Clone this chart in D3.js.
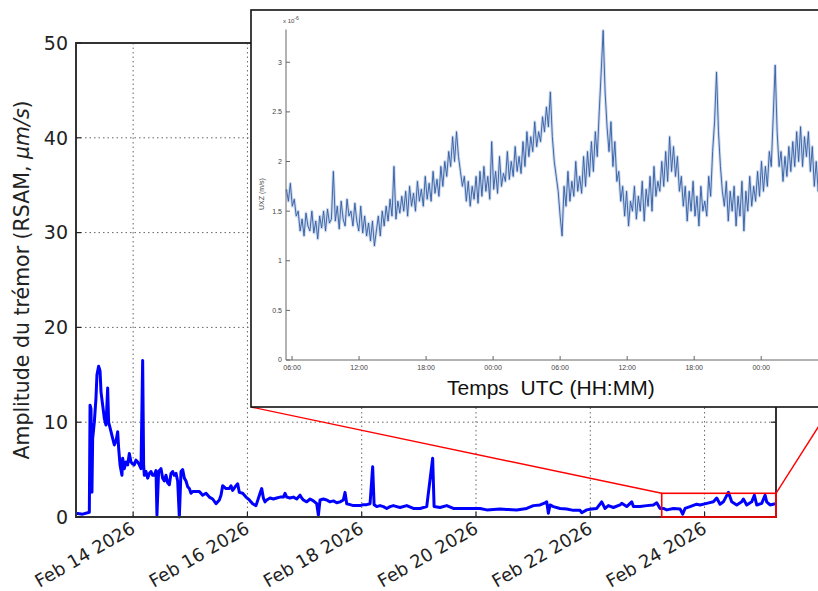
<!DOCTYPE html>
<html>
<head>
<meta charset="utf-8">
<script src="https://cdn.jsdelivr.net/npm/d3@7"></script>
<style>
body { margin: 0; background: #fff; }
svg { display: block; }
</style>
</head>
<body>
<svg id="chart" width="818" height="591"></svg>
<script>
// RSAM tremor amplitude, hours after Feb 13 2026 00:00 UTC
const rsamHours = [0, 2.8, 5.6, 5.9, 6.3, 6.7, 7.0, 7.7, 8.4, 8.8, 9.5, 10.1, 10.5, 11.2, 11.9, 12.6, 13.3, 13.7, 14.7, 15.4,
	16.1, 16.8, 17.5, 17.9, 18.5, 19.3, 19.6, 20.3, 21.0, 21.7, 22.4, 23.1, 23.8, 24.5, 25.2, 25.9, 26.6, 27.3, 28.0, 28.4,
	28.7, 29.4, 30.1, 30.8, 31.5, 32.2, 32.9, 33.6, 34.0, 34.7, 35.7, 36.4, 37.1, 37.8, 38.5, 39.2, 39.9, 40.6, 41.3, 42.0,
	42.7, 43.4, 44.1, 44.8, 45.5, 46.2, 46.9, 47.6, 48.3, 49.0, 50.4, 51.8, 53.2, 54.6, 56.0, 57.4, 58.8, 60.2, 60.9, 61.6,
	63.0, 64.4, 65.1, 65.8, 67.2, 67.9, 68.6, 70.0, 71.4, 72.8, 74.2, 75.6, 77.3, 78.0, 78.7, 79.4, 80.1, 81.5, 82.9, 84.3,
	85.7, 87.1, 87.8, 88.5, 89.9, 91.3, 92.7, 94.1, 94.8, 95.5, 96.9, 98.3, 99.7, 101.1, 101.8, 102.5, 103.9, 105.3, 106.7, 108.1,
	109.5, 110.9, 112.3, 113.0, 113.7, 115.1, 116.5, 117.9, 119.3, 120.7, 122.1, 123.5, 124.6, 125.2, 126.3, 127.7, 129.1, 130.5, 131.9, 133.3,
	134.7, 136.1, 138.9, 141.7, 144.5, 147.3, 149.8, 150.4, 152.9, 155.7, 158.5, 161.3, 164.1, 166.9, 169.7, 172.5, 175.3, 178.1, 180.9, 185.1,
	189.3, 192.1, 194.9, 197.0, 197.7, 198.4, 199.1, 200.5, 203.3, 206.1, 208.9, 211.7, 212.4, 214.5, 216.6, 218.7, 220.8, 222.2, 223.6, 225.7,
	228.5, 229.2, 231.3, 233.4, 234.1, 236.9, 239.7, 242.5, 243.9, 245.3, 246.7, 248.1, 250.9, 253.7, 254.8, 255.8, 257.9, 260.7, 262.1, 264.9,
	267.7, 269.1, 270.5, 271.9, 274.0, 275.4, 277.5, 279.6, 280.3, 281.7, 283.8, 284.9, 285.9, 288.0, 289.4, 290.1, 291.5, 293.6];
const rsamValues = [0.4, 0.3, 0.5, 11.8, 11.4, 2.6, 8.3, 10.0, 12.6, 15.0, 15.9, 15.4, 13.2, 11.8, 10.4, 9.7, 13.6, 10.0, 9.0, 8.3,
	7.6, 8.0, 9.0, 7.3, 5.5, 4.4, 6.2, 5.1, 5.8, 5.5, 6.7, 5.8, 5.6, 5.5, 6.0, 5.8, 5.5, 5.1, 16.5, 5.5,
	4.4, 4.8, 4.1, 4.6, 4.8, 4.4, 4.4, 4.9, 0.2, 4.8, 5.1, 4.1, 3.8, 4.4, 3.6, 3.4, 4.6, 4.8, 4.4, 4.6,
	3.8, 0.0, 4.8, 5.0, 4.1, 3.8, 3.2, 3.0, 2.5, 2.7, 2.7, 2.7, 2.3, 2.5, 2.1, 1.9, 1.4, 1.8, 2.3, 3.3,
	3.0, 3.0, 3.3, 2.8, 3.3, 3.5, 2.6, 2.5, 2.1, 1.8, 1.4, 1.2, 2.5, 3.0, 2.0, 1.6, 1.8, 2.0, 1.9, 2.0,
	2.1, 2.1, 2.5, 2.1, 2.0, 2.1, 1.9, 2.3, 2.0, 1.8, 1.6, 1.9, 1.7, 1.4, 0.2, 1.8, 1.9, 1.8, 1.6, 1.7,
	1.5, 1.6, 1.8, 2.6, 1.4, 1.3, 1.2, 1.2, 1.2, 1.3, 1.3, 1.4, 5.3, 1.3, 1.1, 1.2, 1.1, 0.9, 1.1, 1.2,
	1.1, 1.0, 1.2, 0.9, 0.9, 1.1, 6.2, 1.1, 1.0, 1.2, 0.9, 0.9, 0.9, 0.9, 0.9, 0.75, 0.8, 0.85, 0.8, 0.75,
	0.9, 1.2, 1.27, 1.5, 1.6, 0.4, 1.27, 1.1, 0.9, 0.85, 0.7, 0.7, 0.45, 0.75, 0.85, 0.9, 1.6, 0.9, 1.2, 1.0,
	1.27, 1.44, 1.1, 1.6, 1.1, 1.1, 1.2, 1.27, 1.5, 0.9, 0.9, 0.75, 0.9, 0.85, 0.3, 0.9, 1.1, 1.35, 1.27, 1.44,
	1.6, 2.0, 1.35, 1.6, 2.6, 1.6, 1.27, 1.6, 1.9, 1.27, 1.6, 2.3, 1.27, 1.44, 2.3, 1.6, 1.27, 1.4];

const dateTicks = ['2026-02-14', '2026-02-16', '2026-02-18', '2026-02-20', '2026-02-22', '2026-02-24'];
const yTicks = [0, 10, 20, 30, 40, 50];

// zoomed window: Feb 23 06:00 -> Feb 25 06:00, amplitude 0 -> 2.5
const zoomWindow = ['2026-02-23T06:00Z', '2026-02-25T06:00Z'];
const zoomMax = 2.5;

// inset trace (x 10^-6 m/s), one sample every 0.175 h from Feb 23 05:30 UTC
const insetStart = 5.5;
const insetStep = 0.175;
const insetValues = [
	1.72, 1.6, 1.78, 1.55, 1.62, 1.45, 1.5, 1.3, 1.42, 1.25, 1.48, 1.35, 1.3, 1.5, 1.28, 1.4, 1.22, 1.45, 1.33, 1.5,
	1.3, 1.52, 1.38, 1.42, 1.9, 1.4, 1.55, 1.32, 1.6, 1.42, 1.35, 1.62, 1.45, 1.5, 1.35, 1.58, 1.4, 1.3, 1.55, 1.28,
	1.45, 1.25, 1.38, 1.2, 1.4, 1.15, 1.3, 1.45, 1.25, 1.5, 1.35, 1.55, 1.4, 1.62, 1.45, 1.95, 1.42, 1.6, 1.48, 1.65,
	1.5, 1.7, 1.45, 1.75, 1.55, 1.68, 1.5, 1.8, 1.6, 1.72, 1.55, 1.85, 1.62, 1.78, 1.6, 1.9, 1.68, 1.82, 1.65, 1.95,
	1.75, 2.0, 1.85, 2.1, 1.95, 2.25, 2.0, 2.3, 2.05, 1.9, 1.75, 1.85, 1.6, 1.8, 1.55, 1.75, 1.62, 1.85, 1.58, 1.9,
	1.65, 1.95, 1.7, 1.85, 1.62, 2.2, 1.72, 1.9, 1.68, 2.05, 1.75, 1.88, 1.8, 2.1, 1.82, 2.0, 1.85, 2.15, 1.9, 2.05,
	1.88, 2.2, 1.95, 2.3, 2.05, 2.25, 2.1, 2.4, 2.15, 2.3, 2.2, 2.45, 2.3, 2.55, 2.35, 2.7, 2.25, 2.0, 1.85, 1.7,
	1.45, 1.25, 1.75, 1.55, 1.9, 1.6, 1.8, 1.65, 2.0, 1.7, 1.85, 1.68, 2.05, 1.75, 2.1, 1.85, 2.2, 1.9, 2.3, 2.05,
	2.5, 2.9, 3.32, 2.7, 2.35, 2.1, 2.4, 1.95, 2.2, 1.8, 1.9, 1.6, 1.75, 1.45, 1.7, 1.35, 1.6, 1.5, 1.75, 1.42,
	1.65, 1.5, 1.8, 1.4, 1.72, 1.55, 1.85, 1.5, 1.95, 1.65, 1.8, 1.7, 2.0, 1.75, 2.1, 1.8, 2.25, 1.9, 2.15, 1.85,
	2.05, 1.7, 1.85, 1.55, 1.75, 1.4, 1.7, 1.5, 1.8, 1.45, 1.65, 1.35, 1.75, 1.5, 1.6, 1.45, 1.85, 1.65, 2.1, 2.4,
	2.9, 2.3, 1.95, 1.7, 1.55, 1.8, 1.4, 1.7, 1.5, 1.75, 1.35, 1.65, 1.45, 1.8, 1.3, 1.7, 1.5, 1.85, 1.55, 1.75,
	1.6, 1.9, 1.65, 2.0, 1.7, 1.95, 1.75, 2.1, 1.95, 2.45, 2.97, 2.3, 1.95, 2.1, 1.8, 2.05, 1.85, 2.15, 1.9, 2.2,
	1.95, 2.3, 2.0, 2.35, 1.95, 2.25, 2.05, 2.3, 1.9, 2.15, 1.75, 2.0, 1.7, 1.95, 1.65, 1.8, 1.7, 1.75, 1.6, 1.85];
const insetYTicks = [0, 0.5, 1, 1.5, 2, 2.5, 3];

const svg = d3.select('#chart');
const t0 = Date.UTC(2026, 1, 13);
const H = 3600e3;

const x = d3.scaleUtc().domain([new Date(t0), new Date(t0 + 294 * H)]).range([76, 776]);
const y = d3.scaleLinear().domain([0, 50]).range([517, 43]);
const dates = dateTicks.map((d) => new Date(d + 'T00:00Z'));

// grid
const grid = svg.append('g').attr('stroke', '#666').attr('stroke-width', 1).attr('stroke-dasharray', '1.5,3');
grid.selectAll('.gx').data(dates).join('line')
	.attr('x1', (d) => x(d)).attr('x2', (d) => x(d)).attr('y1', y(50)).attr('y2', y(0));
grid.selectAll('.gy').data(yTicks.slice(1, -1)).join('line')
	.attr('x1', x.range()[0]).attr('x2', x.range()[1]).attr('y1', (d) => y(d)).attr('y2', (d) => y(d));

// data line
const line = d3.line()
	.x((d, i) => x(new Date(t0 + rsamHours[i] * H)))
	.y((d) => y(d));
svg.append('path')
	.datum(rsamValues)
	.attr('fill', 'none')
	.attr('stroke', '#0000ff')
	.attr('stroke-width', 3)
	.attr('stroke-linejoin', 'round')
	.attr('d', line);

// frame
svg.append('rect')
	.attr('x', x.range()[0]).attr('y', y(50))
	.attr('width', x.range()[1] - x.range()[0]).attr('height', y(0) - y(50))
	.attr('fill', 'none').attr('stroke', '#333').attr('stroke-width', 2);

// ticks
const ticks = svg.append('g').attr('stroke', '#222').attr('stroke-width', 1.2);
ticks.selectAll('.tb').data(dates).join('line')
	.attr('x1', (d) => x(d)).attr('x2', (d) => x(d)).attr('y1', y(0)).attr('y2', y(0) - 5);
ticks.selectAll('.tl').data(yTicks).join('line')
	.attr('x1', x.range()[0]).attr('x2', x.range()[0] + 5).attr('y1', (d) => y(d)).attr('y2', (d) => y(d));
ticks.selectAll('.tr').data(yTicks).join('line')
	.attr('x1', x.range()[1]).attr('x2', x.range()[1] - 5).attr('y1', (d) => y(d)).attr('y2', (d) => y(d));

const fmt = d3.utcFormat('%b %d %Y');
svg.append('g').selectAll('text').data(dates).join('text')
	.attr('transform', (d) => 'translate(' + (x(d) - 3) + ',' + (y(0) + 4) + ') rotate(-30)')
	.attr('text-anchor', 'end')
	.attr('dy', '0.7em')
	.attr('font-family', 'DejaVu Sans')
	.attr('font-size', 18)
	.attr('fill', '#222')
	.text(fmt);

svg.append('g').selectAll('text').data(yTicks).join('text')
	.attr('x', x.range()[0] - 8)
	.attr('y', (d) => y(d))
	.attr('dy', '0.36em')
	.attr('text-anchor', 'end')
	.attr('font-family', 'DejaVu Sans')
	.attr('font-size', 19)
	.attr('fill', '#222')
	.text((d) => d);

const ylab = svg.append('text')
	.attr('transform', 'translate(29,' + ((y(0) + y(50)) / 2) + ') rotate(-90)')
	.attr('text-anchor', 'middle')
	.attr('font-family', 'DejaVu Sans')
	.attr('font-size', 20.5)
	.attr('fill', '#222');
ylab.append('tspan').text('Amplitude du trémor (RSAM, ');
ylab.append('tspan').attr('font-style', 'italic').text('μm/s');
ylab.append('tspan').text(')');

// zoom box + connectors
const zx0 = x(new Date(zoomWindow[0])), zx1 = x(new Date(zoomWindow[1]));
const insetBox = { left: 251, top: 10, right: 831, bottom: 407 };
svg.append('rect')
	.attr('x', zx0).attr('y', y(zoomMax))
	.attr('width', zx1 - zx0).attr('height', y(0) - y(zoomMax))
	.attr('fill', 'none').attr('stroke', '#ff0000').attr('stroke-width', 1.6);
svg.append('line')
	.attr('x1', insetBox.left).attr('y1', insetBox.bottom).attr('x2', zx0).attr('y2', y(zoomMax))
	.attr('stroke', '#ff0000').attr('stroke-width', 1.4);
svg.append('line')
	.attr('x1', insetBox.right).attr('y1', insetBox.bottom).attr('x2', zx1).attr('y2', y(zoomMax))
	.attr('stroke', '#ff0000').attr('stroke-width', 1.4);

// inset
const inset = svg.append('g');
inset.append('rect')
	.attr('x', insetBox.left).attr('y', insetBox.top)
	.attr('width', insetBox.right - insetBox.left).attr('height', insetBox.bottom - insetBox.top)
	.attr('fill', '#fff').attr('stroke', '#111').attr('stroke-width', 1.6);

const it0 = Date.UTC(2026, 1, 23);
const ix = d3.scaleUtc()
	.domain([new Date(it0 + 5.46 * H), new Date(it0 + 53.8 * H)])
	.range([286, 826]);
const iy = d3.scaleLinear().domain([0, 3.33]).range([360, 29.5]);

const iline = d3.line()
	.x((d, i) => ix(new Date(it0 + (insetStart + i * insetStep) * H)))
	.y((d) => iy(d));
// soft halo under the trace, then the trace itself
inset.append('path')
	.datum(insetValues)
	.attr('fill', 'none')
	.attr('stroke', '#9db3da')
	.attr('stroke-width', 3)
	.attr('stroke-opacity', 0.5)
	.attr('stroke-linejoin', 'round')
	.attr('d', iline);
inset.append('path')
	.datum(insetValues)
	.attr('fill', 'none')
	.attr('stroke', '#2f5ba3')
	.attr('stroke-width', 0.9)
	.attr('d', iline);

const iax = inset.append('g').attr('stroke', '#666').attr('stroke-width', 1);
iax.append('line').attr('x1', 286).attr('x2', 286).attr('y1', iy(3.33)).attr('y2', iy(0));
iax.append('line').attr('x1', 286).attr('x2', 831).attr('y1', iy(0)).attr('y2', iy(0));
const ixTicks = d3.utcHour.every(6).range(new Date(it0 + 6 * H), new Date(it0 + 54 * H));
iax.selectAll('.ixt').data(ixTicks).join('line')
	.attr('x1', (d) => ix(d)).attr('x2', (d) => ix(d)).attr('y1', iy(0)).attr('y2', iy(0) - 4);
iax.selectAll('.iyt').data(insetYTicks).join('line')
	.attr('x1', 286).attr('x2', 290).attr('y1', (d) => iy(d)).attr('y2', (d) => iy(d));

inset.append('g').selectAll('text').data(ixTicks).join('text')
	.attr('x', (d) => ix(d)).attr('y', iy(0) + 10)
	.attr('text-anchor', 'middle')
	.attr('font-family', 'Liberation Sans')
	.attr('font-size', 7)
	.attr('fill', '#444')
	.text(d3.utcFormat('%H:%M'));
inset.append('g').selectAll('text').data(insetYTicks).join('text')
	.attr('x', 282).attr('y', (d) => iy(d)).attr('dy', '0.35em')
	.attr('text-anchor', 'end')
	.attr('font-family', 'Liberation Sans')
	.attr('font-size', 7)
	.attr('fill', '#444')
	.text(d3.format('~g'));

const exp = inset.append('text')
	.attr('x', 283).attr('y', 23)
	.attr('font-family', 'Liberation Sans')
	.attr('font-size', 6)
	.attr('fill', '#444');
exp.append('tspan').text('x 10');
exp.append('tspan').attr('dy', -3).attr('font-size', 5).text('-6');

inset.append('text')
	.attr('transform', 'translate(264,194) rotate(-90)')
	.attr('text-anchor', 'middle')
	.attr('font-family', 'Liberation Sans')
	.attr('font-size', 7)
	.attr('fill', '#444')
	.text('UXZ (m/s)');

inset.append('text')
	.attr('x', 447).attr('y', 395)
	.attr('font-family', 'Liberation Sans')
	.attr('font-size', 21)
	.attr('fill', '#111')
	.style('white-space', 'pre')
	.text('Temps  UTC (HH:MM)');
</script>
</body>
</html>
